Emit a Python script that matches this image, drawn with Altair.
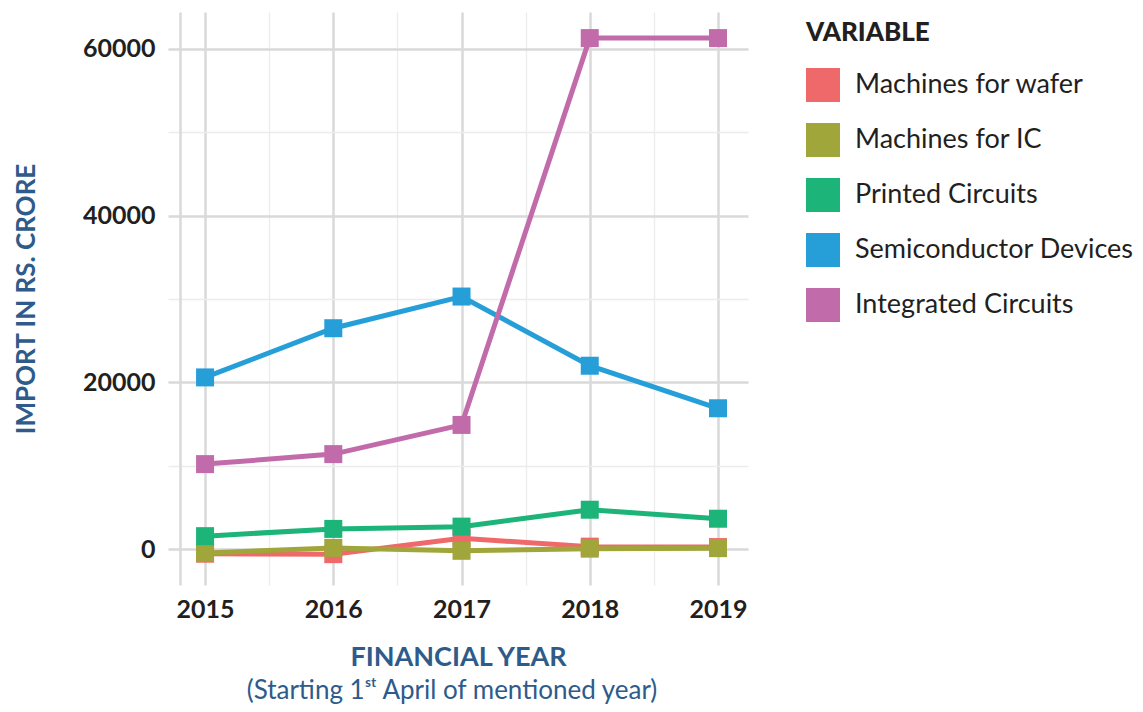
import altair as alt
import pandas as pd

years = [2015, 2016, 2017, 2018, 2019]
series_names = ["Machines for wafer", "Machines for IC", "Printed Circuits",
                "Semiconductor Devices", "Integrated Circuits"]
machines_wafer = [-550, -600, 1300, 300, 250]
machines_ic = [-450, 150, -200, 60, 120]
printed_circuits = [1560, 2430, 2700, 4730, 3650]
semiconductor_devices = [20600, 26500, 30300, 22000, 16900]
integrated_circuits = [10200, 11400, 14900, 61300, 61300]
colors = ["#F0696A", "#A1A63A", "#1DB47A", "#269FD9", "#C26BAB"]

major_x = [2015, 2016, 2017, 2018, 2019]
minor_x = [2015.5, 2016.5, 2017.5, 2018.5]
major_y = [0, 20000, 40000, 60000]
minor_y = [10000, 30000, 50000]

values = [machines_wafer, machines_ic, printed_circuits,
          semiconductor_devices, integrated_circuits]
rows = []
for name, vals in zip(series_names, values):
    for yr, v in zip(years, vals):
        rows.append({"year": yr, "value": v, "variable": name})
df = pd.DataFrame(rows)

FONT = "Lato"
BLUE = "#2E5B8A"
DARK = "#231F20"

xscale = alt.Scale(domain=[2014.711, 2019.234], nice=False, zero=False)
yscale = alt.Scale(domain=[-4300, 64430], nice=False, zero=False)
color = alt.Color("variable:N", sort=series_names,
                  scale=alt.Scale(domain=series_names, range=colors),
                  legend=alt.Legend(title="VARIABLE", orient="none", legendX=638, legendY=8))

base = alt.Chart(df)

minor = base.mark_line(opacity=0).encode(
    x=alt.X("year:Q", scale=xscale,
            axis=alt.Axis(orient="bottom", values=minor_x, grid=True, gridColor="#ECECEC",
                          gridWidth=1.3, labels=False, ticks=False, domain=False, title=None)),
    y=alt.Y("value:Q", scale=yscale,
            axis=alt.Axis(orient="left", values=minor_y, grid=True, gridColor="#ECECEC",
                          gridWidth=1.3, labels=False, ticks=False, domain=False, title=None)),
    detail="variable:N",
)

lines = base.mark_line(strokeWidth=5).encode(
    x=alt.X("year:Q", scale=xscale,
            axis=alt.Axis(orient="bottom", values=major_x, format="d", grid=True,
                          gridColor="#D9D9D9", gridWidth=2.5, ticks=False, domain=False,
                          labelPadding=12, labelFontSize=25, labelFontWeight="bold",
                          labelColor=DARK, labelFont=FONT,
                          title="FINANCIAL YEAR", titleFontSize=27, titleFontWeight="bold",
                          titleColor=BLUE, titleFont=FONT, titlePadding=22, titleX=290)),
    y=alt.Y("value:Q", scale=yscale,
            axis=alt.Axis(orient="left", values=major_y, format="d", grid=True,
                          gridColor="#D9D9D9", gridWidth=2.5, ticks=False, domain=True,
                          domainColor="#D9D9D9", domainWidth=2.5, offset=-12,
                          labelPadding=25, labelFontSize=25, labelFontWeight="bold",
                          labelColor=DARK, labelFont=FONT,
                          title="IMPORT IN RS. CRORE", titleFontSize=26, titleFontWeight="bold",
                          titleColor=BLUE, titleFont=FONT, titlePadding=43)),
    color=color,
)

points = base.mark_square(size=324, opacity=1).encode(
    x=alt.X("year:Q", scale=xscale, axis=None),
    y=alt.Y("value:Q", scale=yscale, axis=None),
    color=alt.Color("variable:N", sort=series_names,
                    scale=alt.Scale(domain=series_names, range=colors), legend=None),
)

chart = alt.layer(minor, lines, points).resolve_axis(
    x="independent", y="independent"
).properties(
    width=580, height=573,
    padding={"left": 160, "top": 4, "right": 387, "bottom": 119},
    autosize=alt.AutoSizeParams(type="none"),
    title=alt.TitleParams("(Starting 1ˢᵗ April of mentioned year)", orient="bottom",
                          anchor="middle", frame="group", fontSize=26, fontWeight="normal",
                          color=BLUE, font=FONT, dx=-6, offset=8),
).configure_view(stroke=None).configure_legend(
    titleFontSize=26, titleFontWeight=900, titleColor=DARK,
    titleFont=FONT, titlePadding=22, labelFontSize=27, labelFont=FONT, labelColor=DARK,
    labelLimit=400,
    symbolType="square", symbolSize=1156, symbolStrokeWidth=0, symbolOpacity=1,
    rowPadding=21, labelOffset=15, padding=0,
)

chart.save("out.html", embed_options={"renderer": "svg", "actions": False})
